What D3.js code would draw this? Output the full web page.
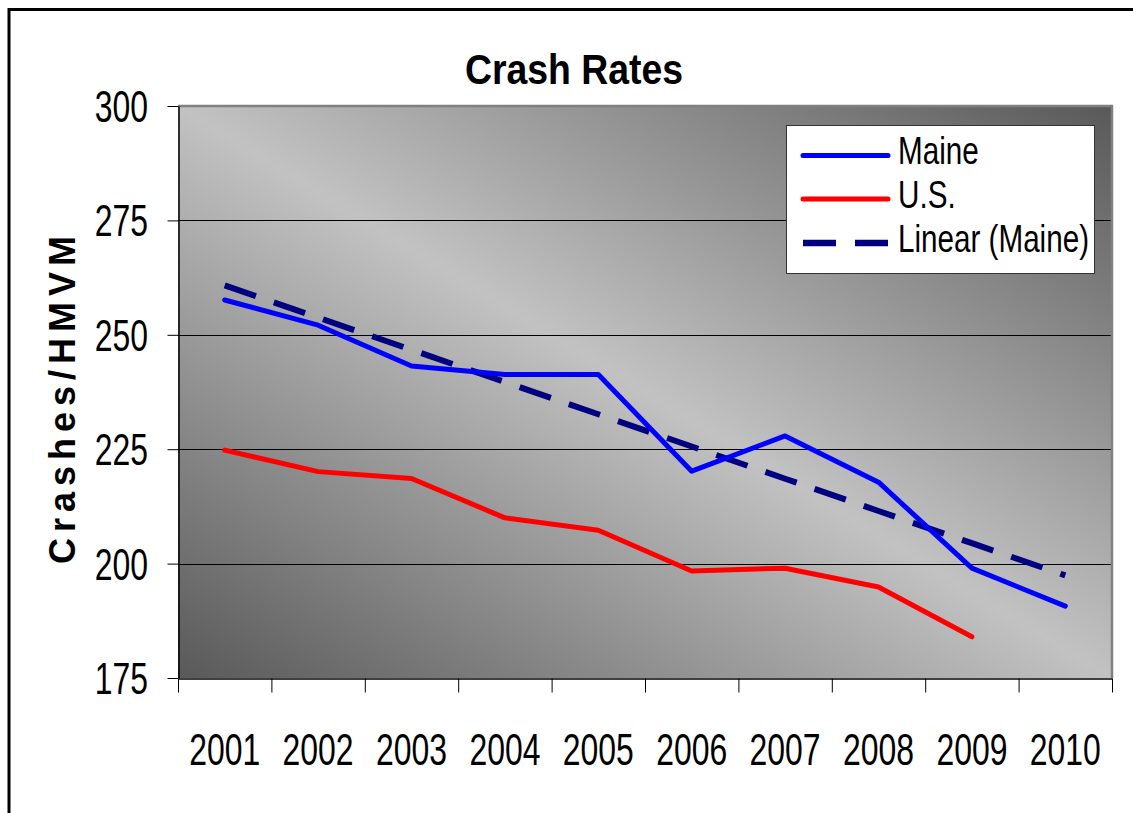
<!DOCTYPE html>
<html>
<head>
<meta charset="utf-8">
<script src="https://cdn.jsdelivr.net/npm/d3@7"></script>
<style>
  html, body { margin: 0; padding: 0; background: #fff; }
  svg { display: block; }
  text { font-family: "Liberation Sans", Arial, sans-serif; fill: #000; }
</style>
</head>
<body>
<svg id="chart" width="1133" height="813"></svg>
<script>
// ---- data ----
const years = ["2001","2002","2003","2004","2005","2006","2007","2008","2009","2010"];
const maine = [257.6, 252.1, 243.2, 241.3, 241.3, 220.2, 227.9, 217.8, 199.0, 190.7];
const us    = [224.8, 220.1, 218.6, 210.0, 207.3, 198.4, 199.0, 194.9, 184.0];
const yTicks = [175, 200, 225, 250, 275, 300];
const seriesNames = ["Maine", "U.S.", "Linear (Maine)"];
const title = "Crash Rates";
const yTitle = "Crashes/HMVM";

// linear trendline of Maine (least squares, as the chart's "Linear (Maine)")
const n = maine.length;
const xs = d3.range(1, n + 1);
const mx = d3.mean(xs), my = d3.mean(maine);
const slope = d3.sum(xs, (x, i) => (x - mx) * (maine[i] - my)) / d3.sum(xs, x => (x - mx) * (x - mx));
const icpt = my - slope * mx;
const trend = xs.map(x => icpt + slope * x);

// ---- layout ----
const svg = d3.select("#chart");
const L = 178, R = 1112, T = 106, B = 678;

const x = d3.scaleBand().domain(years).range([L, R]).padding(0);
const y = d3.scaleLinear().domain([175, 300]).range([B, T]);
const cx = d => x(d) + x.bandwidth() / 2;

// outer border
svg.append("rect").attr("x", 9).attr("y", 9.5).attr("width", 1200).attr("height", 900)
  .attr("fill", "none").attr("stroke", "#000").attr("stroke-width", 3);

// gradient
const defs = svg.append("defs");
const grad = defs.append("linearGradient").attr("id", "bg")
  .attr("x1", 0).attr("y1", 1).attr("x2", 1).attr("y2", 0);
grad.append("stop").attr("offset", "0%").attr("stop-color", "#595959");
grad.append("stop").attr("offset", "50%").attr("stop-color", "#c2c2c2");
grad.append("stop").attr("offset", "100%").attr("stop-color", "#595959");

svg.append("rect").attr("x", L).attr("y", T).attr("width", R - L).attr("height", B - T)
  .attr("fill", "url(#bg)");

// gridlines
svg.append("g").selectAll("line").data(yTicks.filter(v => v > 175 && v < 300)).join("line")
  .attr("x1", L).attr("x2", R).attr("y1", d => Math.round(y(d)) + 0.5).attr("y2", d => Math.round(y(d)) + 0.5)
  .attr("stroke", "#000").attr("stroke-width", 1);

// plot border top/right
svg.append("path")
  .attr("d", `M${L},${T} H${R} V${B}`)
  .attr("fill", "none").attr("stroke", "#808080").attr("stroke-width", 2.5);

// y axis
const yAxis = svg.append("g").attr("transform", `translate(${L + 0.5},0)`)
  .call(d3.axisLeft(y).tickValues(yTicks).tickSize(11).tickSizeOuter(0).tickFormat(""));
yAxis.select(".domain").attr("stroke", "#000").attr("stroke-width", 1.5);
yAxis.selectAll(".tick line").attr("stroke", "#000");

// y tick labels
yTicks.forEach(v => {
  svg.append("g").attr("transform", `translate(148,${y(v) + 16})`)
    .append("text").attr("transform", "scale(0.71,1)")
    .attr("text-anchor", "end").style("font-size", "45px").text(v);
});

// x axis (tick marks at category boundaries)
const xb = d3.scaleLinear().domain([0, years.length]).range([L, R]);
const xAxis = svg.append("g").attr("transform", `translate(0,${B + 0.5})`)
  .call(d3.axisBottom(xb).tickValues(d3.range(0, years.length + 1)).tickSize(14).tickSizeOuter(0).tickFormat(""));
xAxis.select(".domain").attr("stroke", "#000").attr("stroke-width", 1.5);
xAxis.selectAll(".tick line").attr("stroke", "#000");

// x labels
years.forEach(yr => {
  svg.append("g").attr("transform", `translate(${cx(yr)},765)`)
    .append("text").attr("transform", "scale(0.71,1)")
    .attr("text-anchor", "middle").style("font-size", "45px").text(yr);
});

// lines
const line = d3.line().x((d, i) => cx(years[i])).y(d => y(d));
svg.append("path").datum(trend).attr("d", line)
  .attr("fill", "none").attr("stroke", "#000080").attr("stroke-width", 6)
  .attr("stroke-dasharray", "33,19").attr("stroke-linecap", "butt");
svg.append("path").datum(maine).attr("d", line)
  .attr("fill", "none").attr("stroke", "#0000ff").attr("stroke-width", 5)
  .attr("stroke-linejoin", "round").attr("stroke-linecap", "round");
svg.append("path").datum(us).attr("d", line)
  .attr("fill", "none").attr("stroke", "#ff0000").attr("stroke-width", 5)
  .attr("stroke-linejoin", "round").attr("stroke-linecap", "round");

// title
svg.append("g").attr("transform", "translate(574,84)")
  .append("text").attr("transform", "scale(0.89,1)")
  .attr("text-anchor", "middle").style("font-size", "42px").style("font-weight", "bold").text(title);

// y title
svg.append("g").attr("transform", "translate(75,400) rotate(-90)")
  .append("text").attr("text-anchor", "middle").attr("x", 3)
  .style("font-size", "36px").style("font-weight", "bold").style("letter-spacing", "6px")
  .text(yTitle);

// legend
const lg = svg.append("g");
lg.append("rect").attr("x", 786.5).attr("y", 125.5).attr("width", 308).attr("height", 148)
  .attr("fill", "#fff").attr("stroke", "#333").attr("stroke-width", 1);
const legY = [155.5, 199, 243];
const legStyles = [
  {c: "#0000ff", w: 5, dash: null, cap: "round"},
  {c: "#ff0000", w: 5, dash: null, cap: "round"},
  {c: "#000080", w: 6.5, dash: "33,19", cap: "butt"}
];
seriesNames.forEach((s, i) => {
  const st = legStyles[i];
  const ln = lg.append("line").attr("x1", 803).attr("x2", 888).attr("y1", legY[i]).attr("y2", legY[i])
    .attr("stroke", st.c).attr("stroke-width", st.w).attr("stroke-linecap", st.cap);
  if (st.dash) ln.attr("stroke-dasharray", st.dash);
  lg.append("g").attr("transform", `translate(898,${legY[i] + 8.5})`)
    .append("text").attr("transform", "scale(0.78,1)").style("font-size", "38px").text(s);
});
</script>
</body>
</html>
